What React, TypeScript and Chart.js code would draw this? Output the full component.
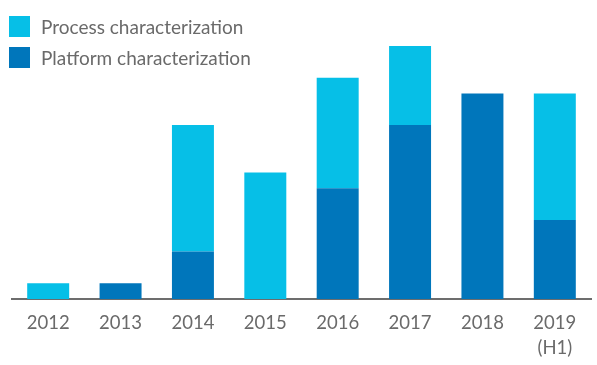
import React, { useEffect, useRef } from "react";
import { Chart, registerables } from "chart.js";

Chart.register(...registerables);

const categories: (string | string[])[] = ["2012", "2013", "2014", "2015", "2016", "2017", "2018", ["2019", "(H1)"]];
const processValues = [1, 0, 8, 8, 7, 5, 0, 8];
const platformValues = [0, 1, 3, 0, 7, 11, 13, 5];
const seriesNames = ["Process characterization", "Platform characterization"];

const LIGHT = "#06BFE7";
const DARK = "#0076BB";
const TEXT = "#6a6a6a";
const FONT = "Lato, 'Open Sans', sans-serif";

export default function App() {
  const ref = useRef<HTMLCanvasElement | null>(null);
  useEffect(() => {
    if (!ref.current) return;
    const chart = new Chart(ref.current, {
      type: "bar",
      data: {
        labels: categories,
        datasets: [
          { label: seriesNames[1], data: platformValues, backgroundColor: DARK, barPercentage: 0.58, categoryPercentage: 1 },
          { label: seriesNames[0], data: processValues, backgroundColor: LIGHT, barPercentage: 0.58, categoryPercentage: 1 },
        ],
      },
      options: {
        animation: false,
        responsive: false,
        maintainAspectRatio: false,
        layout: { padding: { left: 12, right: 6, top: 46, bottom: 0 } },
        plugins: { legend: { display: false }, tooltip: { enabled: false } },
        scales: {
          x: {
            stacked: true,
            grid: { display: false, drawTicks: false },
            border: { display: true, color: "#6d6d6d", width: 2 },
            ticks: { color: TEXT, font: { family: FONT, size: 18.5, lineHeight: 1.37 }, padding: 11, maxRotation: 0, autoSkip: false },
            afterFit: (s: any) => { s.height = 66; },
          },
          y: { stacked: true, display: false, min: 0, max: 16 },
        },
      },
    });
    return () => chart.destroy();
  }, []);

  const legendItem = (color: string, label: string, top: number) => (
    <div style={{ position: "absolute", left: 9, top, height: 21, display: "flex", alignItems: "center" }}>
      <div style={{ width: 21, height: 21, background: color }} />
      <span style={{ marginLeft: 11, fontFamily: FONT, fontSize: 19, color: TEXT, whiteSpace: "nowrap" }}>{label}</span>
    </div>
  );

  return (
    <div style={{ position: "absolute", left: 0, top: 0, width: 597, height: 365, background: "#fff" }}>
      <canvas ref={ref} width={597} height={365} style={{ position: "absolute", left: 0, top: 0 }} />
      {legendItem(LIGHT, seriesNames[0], 16)}
      {legendItem(DARK, seriesNames[1], 47)}
    </div>
  );
}
